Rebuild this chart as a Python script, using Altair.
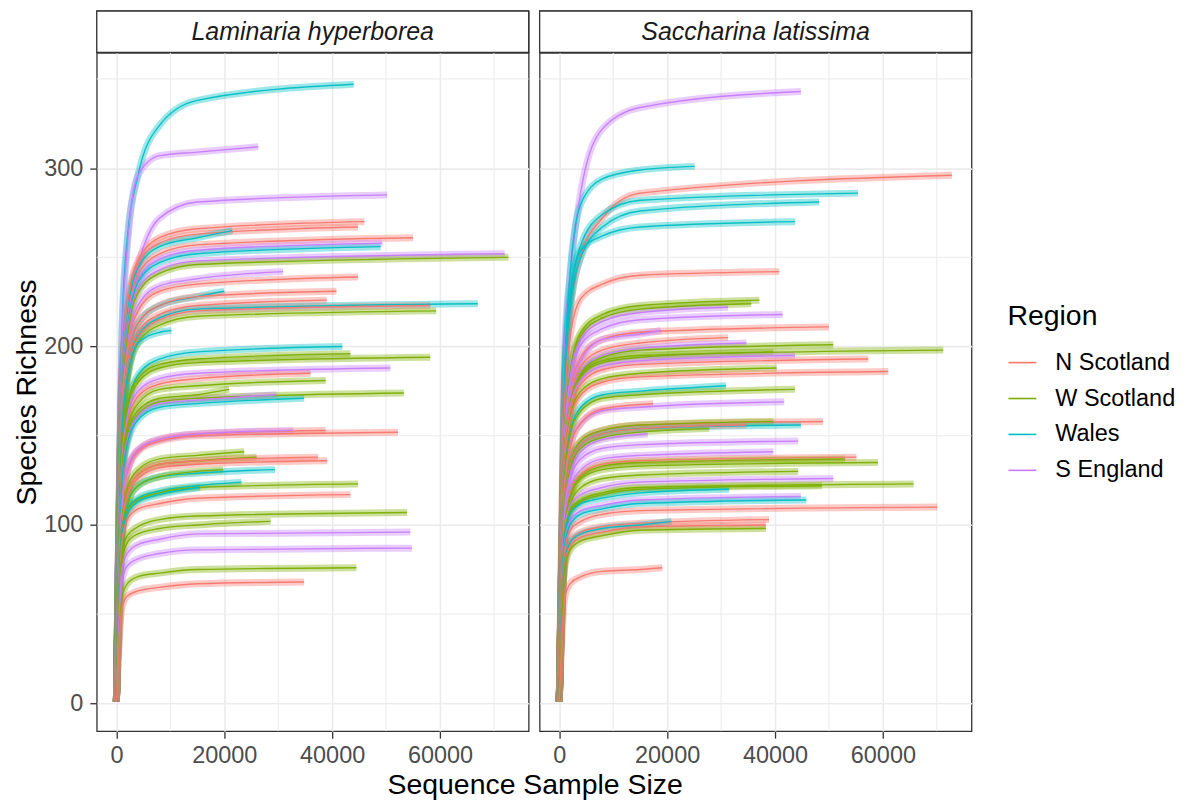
import altair as alt
import pandas as pd

FONT = "Liberation Sans"
REGIONS = ["N Scotland", "W Scotland", "Wales", "S England"]
COLORS = ["#F8766D", "#7CAE00", "#00BFC4", "#C77CFF"]
SPECIES = ["Laminaria hyperborea", "Saccharina latissima"]

START_X, START_Y = 0, 1
KNOT_X = [1000, 2000, 4000, 8000, 15000]

# ---------------- Laminaria hyperborea ----------------
LH_region = ["Wales", "S England", "S England", "N Scotland", "N Scotland", "Wales", "N Scotland",
             "S England", "Wales", "S England", "W Scotland", "S England", "N Scotland", "Wales",
             "N Scotland", "N Scotland", "Wales", "N Scotland", "W Scotland", "Wales", "Wales",
             "W Scotland", "W Scotland", "S England", "N Scotland", "W Scotland", "W Scotland",
             "W Scotland", "S England", "Wales", "N Scotland", "N Scotland", "S England",
             "W Scotland", "W Scotland", "N Scotland", "N Scotland", "Wales", "W Scotland", "Wales",
             "W Scotland", "Wales", "N Scotland", "W Scotland", "W Scotland", "S England",
             "S England", "W Scotland", "N Scotland"]
LH_depth = [44000, 26300, 50200, 46000, 44800, 21500, 55000, 49300, 49000, 72000, 72700, 30900,
            44800, 20000, 40800, 39000, 67000, 58200, 59300, 10200, 41900, 43400, 58200, 50800,
            36000, 38800, 20900, 53300, 29700, 34800, 52200, 38800, 32800, 23700, 26000, 37400,
            39100, 29400, 19800, 23200, 44800, 15500, 43400, 53900, 28600, 54500, 54800, 44500,
            34800]
LH_rich = [347, 312, 285, 270, 267, 265, 261, 258, 256, 252, 250, 242, 239, 231, 231, 226, 224,
           223, 220, 209, 200, 196, 194, 188, 185, 181, 176, 174, 173, 171, 152, 153, 153, 141,
           138, 138, 136, 131, 131, 124, 123, 121, 117, 107, 102, 96, 87, 76, 68]
LH_y1k = [208, 200, 185, 184, 182, 180, 177, 175, 174, 171, 170, 165, 163, 157, 157, 154, 152,
          152, 150, 150, 136, 141, 140, 135, 133, 130, 127, 125, 125, 123, 109, 110, 110, 102,
          99, 99, 98, 94, 94, 97, 96, 94, 91, 83, 80, 75, 68, 59, 53]
LH_y2k = [260, 255, 215, 221, 219, 217, 214, 212, 210, 207, 205, 198, 196, 189, 189, 185, 184,
          183, 180, 182, 164, 167, 165, 160, 157, 154, 150, 148, 147, 145, 129, 130, 130, 120,
          117, 117, 116, 111, 111, 109, 108, 106, 103, 94, 90, 84, 77, 67, 60]
LH_y4k = [296, 296, 245, 248, 246, 244, 240, 237, 236, 232, 230, 223, 220, 213, 213, 208, 206,
          205, 202, 202, 184, 182, 180, 175, 172, 168, 164, 162, 161, 159, 141, 142, 142, 131,
          128, 128, 126, 122, 122, 115, 114, 113, 109, 99, 95, 89, 81, 71, 63]
LH_y8k = [324, 307, 272, 261, 258, 256, 252, 249, 247, 243, 241, 234, 231, 223, 223, 218, 216,
          215, 212, 208, 193, 190, 188, 182, 179, 176, 171, 169, 168, 166, 147, 148, 148, 137,
          134, 134, 132, 127, 127, 119, 118, 117, 112, 103, 98, 92, 84, 73, 65]
LH_y15k = [338, 309, 281, 266, 263, 261, 257, 254, 252, 248, 246, 238, 235, 228, 228, 223, 221,
           220, 217, None, 197, 193, 191, 185, 182, 178, 173, 171, 170, 168, 150, 151, 151, 139,
           136, 136, 134, 129, 130, 122, 121, None, 115, 105, 100, 95, 86, 75, 67]

# ---------------- Saccharina latissima ----------------
SL_region = ["S England", "Wales", "N Scotland", "Wales", "Wales", "Wales", "N Scotland",
             "W Scotland", "W Scotland", "S England", "S England", "N Scotland", "S England",
             "N Scotland", "S England", "W Scotland", "W Scotland", "W Scotland", "S England",
             "N Scotland", "W Scotland", "N Scotland", "Wales", "W Scotland", "S England",
             "N Scotland", "N Scotland", "W Scotland", "Wales", "N Scotland", "W Scotland",
             "S England", "S England", "S England", "N Scotland", "W Scotland", "W Scotland",
             "W Scotland", "S England", "W Scotland", "W Scotland", "Wales", "S England", "Wales",
             "N Scotland", "N Scotland", "Wales", "N Scotland", "W Scotland", "N Scotland"]
SL_depth = [44800, 25100, 72800, 55400, 48200, 43700, 40800, 37100, 35600, 31300, 41400, 50000,
            18900, 31300, 34700, 50800, 71200, 39700, 43700, 57300, 40300, 61000, 30900, 43700,
            41700, 17400, 48900, 39700, 44800, 34700, 27800, 16400, 44300, 39700, 55100, 53000,
            59100, 44300, 50800, 65700, 48700, 31500, 44800, 45800, 70100, 38900, 20800, 38300,
            38300, 19100]
SL_rich = [343, 301, 296, 286, 281, 270, 242, 226, 224, 222, 218, 211, 209, 205, 202, 201, 198,
           197, 195, 193, 188, 186, 178, 176, 169, 168, 158, 158, 156, 156, 154, 151, 147, 141,
           138, 137, 135, 130, 126, 123, 122, 120, 116, 114, 110, 103, 102, 100, 98, 76]
SL_y1k = [200, 185, 185, 180, 178, 180, 170, 154, 152, 151, 148, 143, 142, 139, 137, 137, 143,
          142, 140, 139, 135, 134, 128, 127, 122, 121, 114, 114, 112, 112, 111, 109, 106, 102,
          99, 99, 97, 94, 98, 96, 95, 94, 90, 89, 86, 80, 80, 78, 76, 59]
SL_y2k = [240, 240, 220, 225, 220, 228, 205, 185, 184, 182, 179, 173, 171, 168, 166, 165, 168,
          167, 166, 164, 160, 158, 151, 150, 144, 143, 134, 134, 133, 133, 131, 128, 125, 120,
          117, 116, 115, 111, 111, 108, 107, 106, 102, 100, 97, 91, 90, 88, 86, 67]
SL_y4k = [287, 280, 251, 257, 250, 254, 227, 208, 206, 204, 201, 194, 192, 189, 186, 185, 184,
          183, 181, 179, 175, 173, 166, 164, 157, 157, 147, 147, 145, 145, 143, 141, 137, 131,
          128, 127, 126, 121, 117, 114, 113, 112, 108, 106, 102, 96, 95, 93, 91, 71]
SL_y8k = [322, 294, 272, 274, 267, 262, 235, 218, 216, 214, 210, 204, 204, 198, 195, 194, 192,
          191, 189, 187, 182, 180, 173, 171, 164, 165, 153, 153, 151, 151, 149, 148, 143, 137,
          134, 133, 131, 126, 121, 118, 117, 115, 111, 109, 106, 99, 98, 96, 94, 74]
SL_y15k = [334, 299, 286, 282, 276, 267, 240, 223, 221, 219, 215, 208, 207, 202, 199, 198, 195,
           194, 192, 190, 185, 183, 175, 173, 166, None, 156, 156, 154, 154, 152, None, 145, 139,
           136, 135, 133, 128, 124, 121, 120, 118, 114, 112, 108, 101, 100, 99, 97, 75]

# minor grid positions (ggplot minor breaks)
MINOR_X = [10000, 30000, 50000, 70000]
MINOR_Y = [50, 150, 250, 350]
MAJOR_X = [0, 20000, 40000, 60000]
MAJOR_Y = [0, 100, 200, 300]


def build(species, regions, depth, rich, knots):
    rows = []
    for i in range(len(regions)):
        cid = f"{species}-{i}"
        pts = [(START_X, START_Y)]
        for kx, ky in zip(KNOT_X, knots):
            if ky[i] is not None and kx < depth[i]:
                pts.append((kx, ky[i]))
        pts.append((depth[i], rich[i]))
        for k, (xx, yy) in enumerate(pts):
            rows.append({"species": species, "curve": cid, "Region": regions[i],
                         "x": xx, "y": yy, "o": k})
    return pd.DataFrame(rows)


df_lh = build(SPECIES[0], LH_region, LH_depth, LH_rich,
              [LH_y1k, LH_y2k, LH_y4k, LH_y8k, LH_y15k])
df_sl = build(SPECIES[1], SL_region, SL_depth, SL_rich,
              [SL_y1k, SL_y2k, SL_y4k, SL_y8k, SL_y15k])

W, H, STRIP_H = 433, 680, 41.5
XDOM = [-3640, 76440]
YDOM = [-15.6, 364.6]

color = alt.Color("Region:N", scale=alt.Scale(domain=REGIONS, range=COLORS),
                  legend=alt.Legend(title="Region"))


def panel(df, first):
    xaxis = alt.Axis(values=MAJOR_X, format="d", grid=True, domain=False, labelPadding=5,
                     title="Sequence Sample Size" if first else None,
                     **({"titleX": 439, "titleAlign": "center"} if first else {}))
    if first:
        yaxis = alt.Axis(values=MAJOR_Y, title="Species Richness", domain=False,
                         labelPadding=7, titlePadding=2)
    else:
        yaxis = alt.Axis(values=MAJOR_Y, title=None, labels=False, ticks=False, domain=False)
    xs = alt.Scale(domain=XDOM, nice=False, zero=False)
    ys = alt.Scale(domain=YDOM, nice=False, zero=False)

    gx = alt.Chart(pd.DataFrame({"gx": MINOR_X})).mark_rule(
        color="#EBEBEB", strokeWidth=1).encode(x=alt.X("gx:Q", scale=xs, axis=xaxis))
    gy = alt.Chart(pd.DataFrame({"gy": MINOR_Y})).mark_rule(
        color="#EBEBEB", strokeWidth=1).encode(y=alt.Y("gy:Q", scale=ys, axis=yaxis))

    base = alt.Chart(df).encode(
        x=alt.X("x:Q", scale=xs, axis=xaxis),
        y=alt.Y("y:Q", scale=ys, axis=yaxis),
        color=color,
        detail="curve:N",
        order="o:Q",
    )
    band = base.mark_line(strokeWidth=7, opacity=0.38, interpolate="monotone", strokeCap="butt")
    core = base.mark_line(strokeWidth=1.4, opacity=0.95, interpolate="monotone", strokeCap="butt")
    return alt.layer(gx, gy, band, core).properties(width=W, height=H)


def strip(name):
    src = alt.Chart(pd.DataFrame({"t": [name]}))
    box = src.mark_rect(fill="white", stroke="#333333", strokeWidth=1.3).encode(
        x=alt.value(0), x2=alt.value(W), y=alt.value(0), y2=alt.value(STRIP_H))
    txt = src.mark_text(
        font=FONT, fontSize=25, fontStyle="italic", color="#1A1A1A",
        baseline="middle", align="center",
    ).encode(text="t:N")
    return alt.layer(box, txt).properties(width=W, height=STRIP_H)


chart = alt.concat(
    strip(SPECIES[0]), strip(SPECIES[1]),
    panel(df_lh, True), panel(df_sl, False),
    columns=2, spacing={"row": 0, "column": 11}, bounds="flush",
).properties(
    padding={"left": 4, "top": 0, "right": 5, "bottom": 5}
).configure_view(
    stroke="#333333", strokeWidth=1.3, fill="white"
).configure_axis(
    labelFont=FONT, titleFont=FONT, labelFontSize=23.5, labelColor="#4D4D4D",
    titleFontSize=28.5, titleFontWeight="normal", titleColor="#000000",
    tickColor="#333333", tickSize=7, tickWidth=1.3,
    gridColor="#EBEBEB", gridWidth=1.6,
).configure_axisX(titlePadding=4).configure_legend(
    orient="none", legendX=913, legendY=292,
    titleFont=FONT, labelFont=FONT, titleFontSize=28.5, titleFontWeight="normal",
    titleColor="#000000", labelFontSize=23.5, labelColor="#000000",
    symbolType="stroke", symbolSize=784, symbolStrokeWidth=1.6, symbolOpacity=1,
    labelOffset=18, rowPadding=9, titlePadding=17,
)

chart.save("out.html", embed_options={"renderer": "svg", "actions": False})
